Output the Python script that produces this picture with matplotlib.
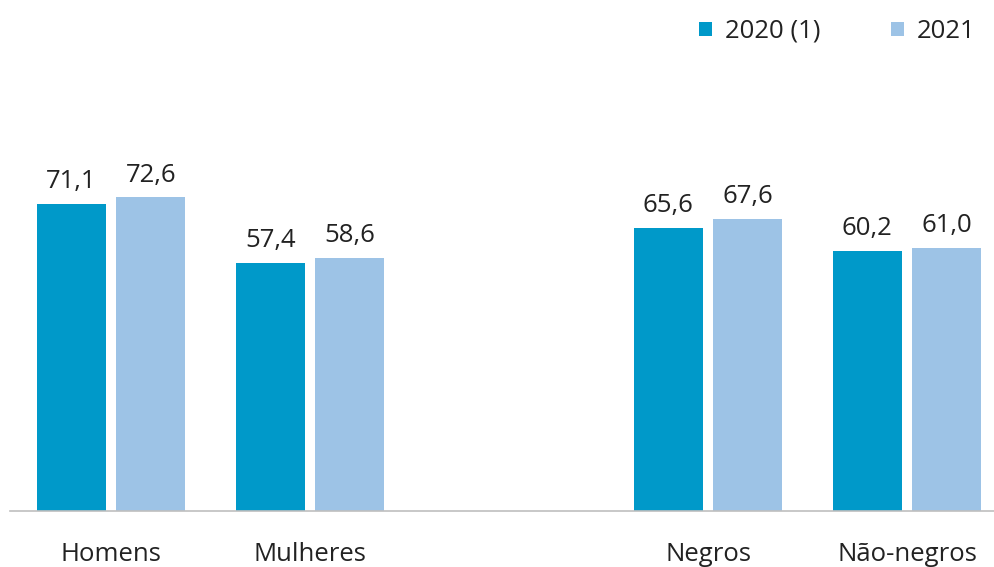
import matplotlib
matplotlib.use("Agg")
import matplotlib.pyplot as plt
from matplotlib.patches import Patch

categories = ["Homens", "Mulheres", "", "Negros", "Não-negros"]
series_2020 = [71.1, 57.4, None, 65.6, 60.2]
series_2021 = [72.6, 58.6, None, 67.6, 61.0]
series_names = ["2020 (1)", "2021"]
colors = ["#0099C9", "#9DC3E6"]

plt.rcParams['font.family'] = ['Open Sans', 'DejaVu Sans']

W, H = 994, 567
fig = plt.figure(figsize=(W / 100, H / 100), dpi=100)
ax = fig.add_axes([10 / W, (H - 511) / H, 984 / W, 511 / H])

def fmt(v):
    return f"{v:.1f}".replace(".", ",")

FS = 18.5
width = 0.345
offsets = [-0.2, 0.2]
for s, (vals, off, col) in enumerate(zip([series_2020, series_2021], offsets, colors)):
    for i, v in enumerate(vals):
        if v is None:
            continue
        ax.bar(i + off, v, width=width, color=col, edgecolor="none")
        ax.annotate(fmt(v), (i + off, v), xytext=(0, 7), textcoords="offset points",
                    ha="center", va="bottom", fontsize=FS, color="#222222")

ax.set_xlim((10 - 111) / 199, (994 - 111) / 199)
ax.set_ylim(0, 118.3)
ax.set_xticks(range(len(categories)))
ax.set_xticklabels(categories, fontsize=FS, color="#222222")
ax.tick_params(axis="x", length=0, pad=22)
ax.set_yticks([])
for sp in ["top", "left", "right"]:
    ax.spines[sp].set_visible(False)
ax.spines["bottom"].set_color("#BFBFBF")
ax.spines["bottom"].set_linewidth(1.2)

handles = [Patch(facecolor=c, edgecolor="none") for c in colors]
fig.legend(handles, series_names, loc="upper right", bbox_to_anchor=(975 / W, 1 - 19 / H),
           ncol=2, frameon=False, fontsize=FS, handlelength=0.5, handleheight=0.5,
           handletextpad=0.5, columnspacing=2.75, labelcolor="#222222",
           borderpad=0, borderaxespad=0)

fig.savefig("out.png", dpi=100)
